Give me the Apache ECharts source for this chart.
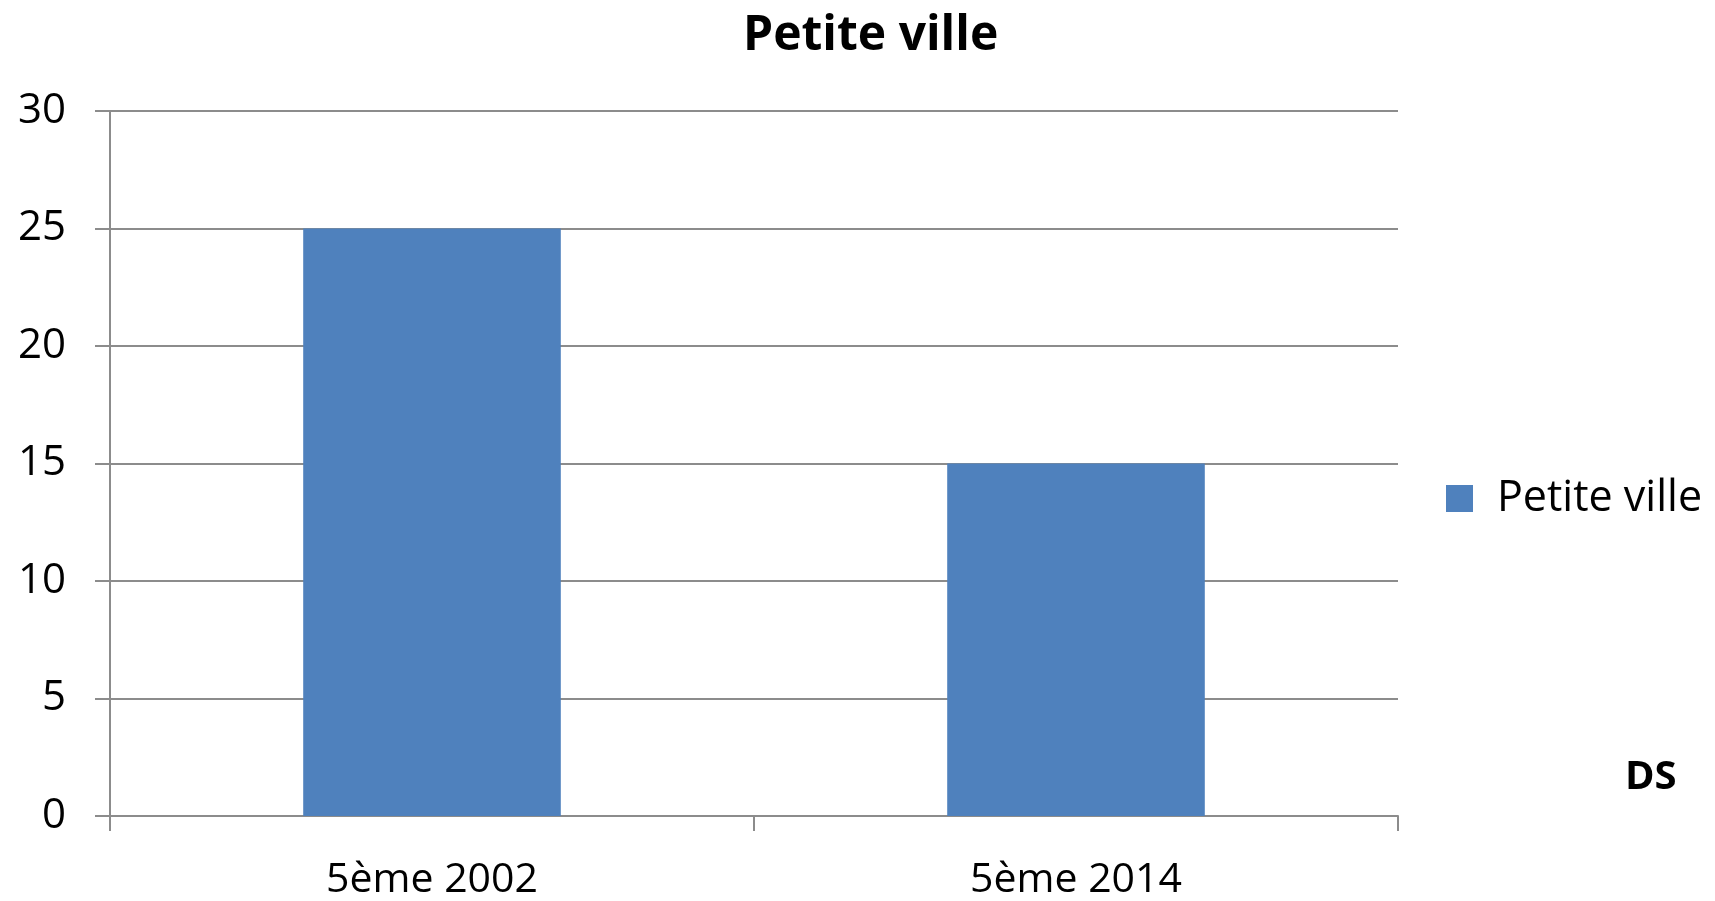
<!DOCTYPE html>
<html>
<head>
<meta charset="utf-8">
<script src="https://cdn.jsdelivr.net/npm/echarts@6/dist/echarts.min.js"></script>
<style>
  html, body { margin: 0; padding: 0; background: #fff; }
  #chart { width: 1715px; height: 901px; }
</style>
</head>
<body>
<div id="chart"></div>
<script>
// data
const categories = ['5ème 2002', '5ème 2014'];
const values = [25, 15];
const seriesName = 'Petite ville';

const font = '"Open Sans", "Noto Sans", sans-serif';
const chart = echarts.init(document.getElementById('chart'));

chart.setOption({
  backgroundColor: '#ffffff',
  animation: false,
  title: {
    text: 'Petite ville',
    left: 738,
    top: 7,
    textStyle: { fontFamily: font, fontSize: 48, fontWeight: 'bold', color: '#000' }
  },
  legend: {
    orient: 'vertical',
    left: 1441,
    top: 472,
    itemWidth: 27,
    itemHeight: 27,
    itemGap: 10,
    icon: 'rect',
    textStyle: { fontFamily: font, fontSize: 43, color: '#000', padding: [0, 0, 0, 19] },
    data: [seriesName]
  },
  grid: { left: 110, right: 317, top: 111, bottom: 83, containLabel: false },
  xAxis: {
    type: 'category',
    data: categories,
    axisLine: { lineStyle: { color: '#8c8c8c', width: 2 } },
    axisTick: { show: true, length: 15, lineStyle: { color: '#8c8c8c', width: 2 } },
    axisLabel: { fontFamily: font, fontSize: 41, color: '#000', margin: 44 }
  },
  yAxis: {
    type: 'value',
    min: 0,
    max: 30,
    interval: 5,
    axisLine: { show: true, lineStyle: { color: '#8c8c8c', width: 2 } },
    axisTick: { show: true, length: 15, lineStyle: { color: '#8c8c8c', width: 2 } },
    axisLabel: { fontFamily: font, fontSize: 42, color: '#000', margin: 44 },
    splitLine: { lineStyle: { color: '#8c8c8c', width: 2 } }
  },
  series: [{
    name: seriesName,
    type: 'bar',
    data: values,
    barWidth: '40%',
    itemStyle: { color: '#4f81bd' }
  }],
  graphic: [{
    type: 'text',
    left: 1625,
    top: 758,
    style: { text: 'DS', font: 'bold 40px ' + font, fill: '#000' }
  }]
});
</script>
</body>
</html>
